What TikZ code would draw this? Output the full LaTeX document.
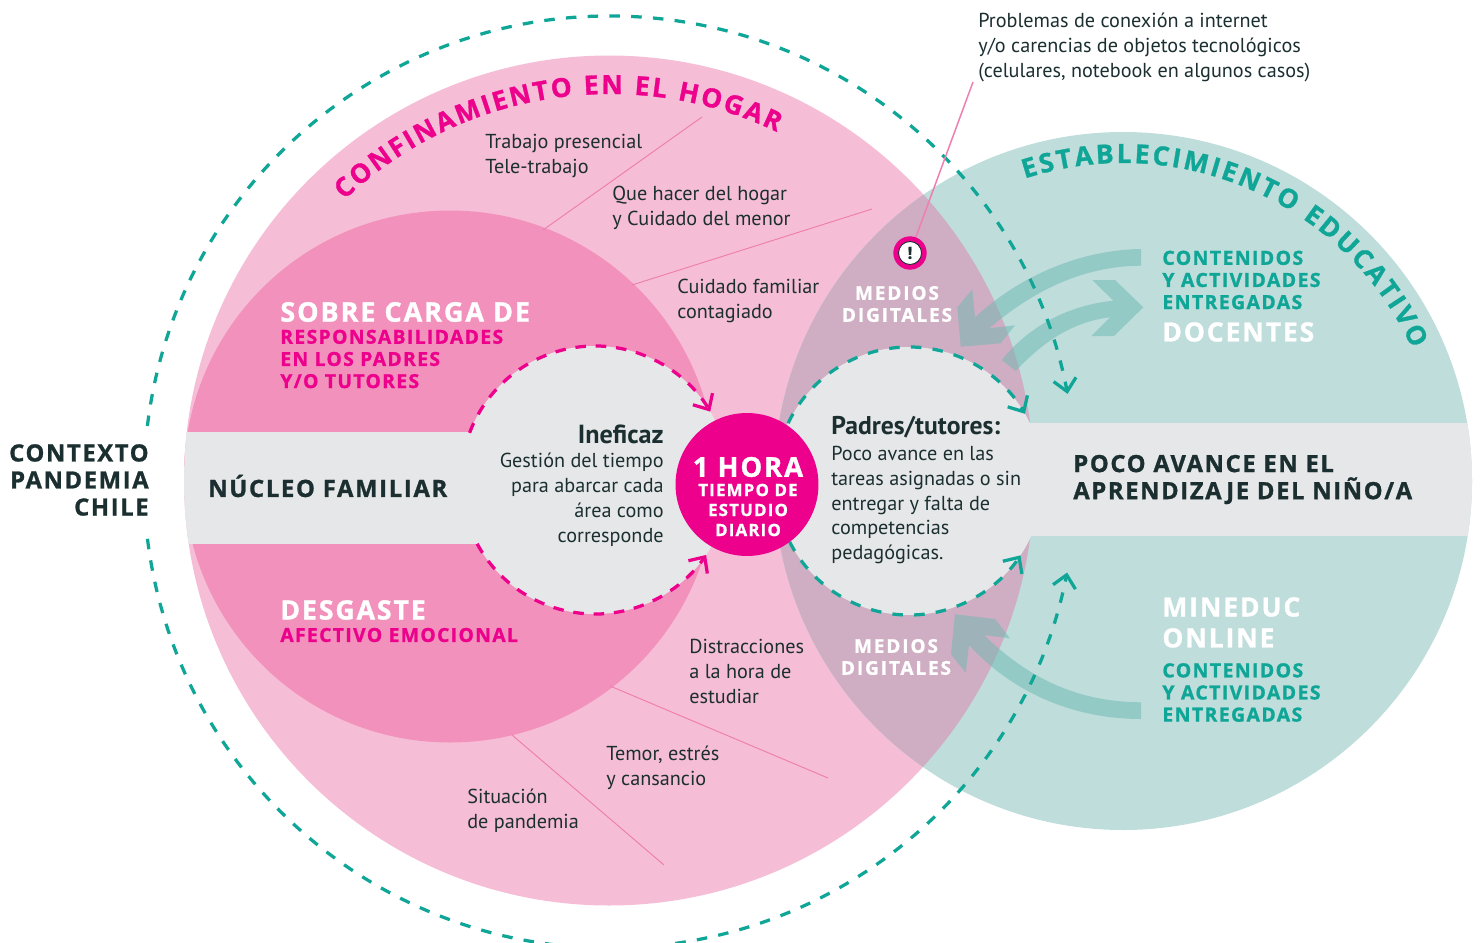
\documentclass[tikz,border=0pt]{standalone}
\usepackage{fontspec}
\usetikzlibrary{arrows.meta,decorations.text}
\setmainfont{PT Sans}
\newfontfamily\bodyf{PT Sans}
\newfontfamily\hdf[LetterSpace=7,BoldFeatures={FakeBold=1.1}]{Open Sans}
\newfontfamily\hdw[LetterSpace=10,BoldFeatures={FakeBold=1.1}]{Open Sans}
\newfontfamily\hdplain[BoldFeatures={FakeBold=1.1}]{Open Sans}
\definecolor{pinkbg}{HTML}{F6BED6}
\definecolor{pinkdk}{HTML}{F292BC}
\definecolor{tealbg}{HTML}{BEDDDB}
\definecolor{overlapc}{HTML}{CFAEC3}
\definecolor{greyc}{HTML}{E6E7E8}
\definecolor{mag}{HTML}{EC008C}
\definecolor{tealdk}{HTML}{10A697}
\definecolor{inkc}{HTML}{1B2E30}
\definecolor{arrowc}{HTML}{6CB8B0}
\definecolor{linec}{HTML}{EE7FB0}
\tikzset{
  body/.style={inner sep=0pt,text=inkc,align=left,font=\bodyf\fontsize{11.5}{14.17}\selectfont},
  bodyr/.style={body,align=right},
  lead/.style={inner sep=0pt,text=inkc,font=\bodyf\bfseries\fontsize{14.6}{17}\selectfont},
  hd/.style={inner sep=0pt,align=left,font=\hdf\bfseries\fontsize{#1}{#1}\selectfont},
  dashteal/.style={draw=tealdk,line width=1.85pt,dash pattern=on 6pt off 6.4pt,-{Straight Barb[length=7pt,width=13pt,line width=1.85pt]}},
  dashmag/.style={draw=mag,line width=1.85pt,dash pattern=on 6pt off 5.6pt,-{Straight Barb[length=7pt,width=13pt,line width=1.85pt]}},
  thin line/.style={draw=linec,line width=0.55pt},
  flow/.style={fill=arrowc,fill opacity=0.5,draw=none}
}
\begin{document}
\begin{tikzpicture}[x=0.02cm,y=0.02cm,yscale=-1]
\useasboundingbox (0,0) rectangle (1481,943);
% big discs
\fill[pinkbg] (609,480.5) circle[radius=425];
\fill[tealbg] (1123,481) circle[radius=349];
\begin{scope}
  \clip (609,480.5) circle[radius=425];
  \fill[overlapc] (1123,481) circle[radius=349];
  \fill[pinkdk] (450,476.5) circle[radius=266];
  \fill[greyc] (150,432) rectangle (500,544);
\end{scope}
\fill[greyc] (595,480) circle[radius=134];
\begin{scope}
  \clip (1123,481) circle[radius=349];
  \fill[greyc] (1000,423) rectangle (1481,536);
\end{scope}
\fill[greyc] (909,481) circle[radius=134];
% flow arrows
\fill[flow] (972.3,289.3) -- (957.3,307.3) -- (960.7,346.7) -- (1000.7,343.3) -- (1015,325.3) -- (989.3,328.3)
  .. controls (1040,285) and (1090,266) .. (1141,265.7) -- (1141,249)
  .. controls (1075,250) and (1015,280) .. (975,317.3) -- cycle;
\fill[flow] (1001.7,360) .. controls (1030,325) and (1070,305) .. (1113.3,300.7) -- (1092.3,280) -- (1115,280) -- (1143.3,307.3)
  -- (1114,336) -- (1091.3,336) -- (1110,317.3) .. controls (1070,322) and (1040,345) .. (1015.7,371) -- cycle;
\fill[flow] (955,614.3) -- (995,619) -- (1010,638.3) -- (984,635)
  .. controls (1030,680) and (1080,702) .. (1141,702.3) -- (1141,719)
  .. controls (1070,719) and (1010,690) .. (969,645) -- (965.7,672.7) -- (951,654.3) -- cycle;
% dashed paths
\draw[dashteal] (610,482) ++(186.9:466) arc[start angle=186.9,end angle=349.1,radius=466];
\draw[dashteal] (610,482) ++(173:466) arc[start angle=173,end angle=11.2,radius=466];
\draw[dashmag] (595,480) ++(200.6:134) arc[start angle=200.6,end angle=329.3,radius=134];
\draw[dashmag] (595,480) ++(151.6:134) arc[start angle=151.6,end angle=34,radius=134];
\draw[dashteal] (909,481) ++(205.6:134) arc[start angle=205.6,end angle=329.9,radius=134];
\draw[dashteal] (909,481) ++(153:134) arc[start angle=153,end angle=33.7,radius=134];
% thin leader lines
\coordinate (l1a) at (702,117); \coordinate (l1b) at (543,230);
\coordinate (l2a) at (872,209); \coordinate (l2b) at (632,285);
\coordinate (l3a) at (828,778); \coordinate (l3b) at (610,686);
\coordinate (l4a) at (664,865); \coordinate (l4b) at (512,735);
\draw[thin line] (l1a) -- (l1b);
\draw[thin line] (l2a) -- (l2b);
\draw[thin line] (l3a) -- (l3b);
\draw[thin line] (l4a) -- (l4b);
% alert icon
\coordinate (alertTop) at (973,82);
\node[circle,fill=mag,minimum size=0.668cm,inner sep=0pt] (alertRing) at (910,253) {};
\draw[linec,line width=0.85pt] (alertTop) -- (alertRing);
\node[circle,fill=white,draw=inkc,line width=0.5pt,minimum size=0.46cm,inner sep=0pt,text=inkc,font=\hdplain\bfseries\fontsize{9.5}{9.5}\selectfont] (alertMark) at (910,253) {!};
% centre disc
\node[circle,fill=mag,minimum size=2.86cm,inner sep=0pt] (hora) at (747,484.5) {};
\node[hd=15.6,text=white,anchor=center] (horaA) at (748,467) {1 HORA};
\node[hd=9.6,text=white,anchor=center] (horaB) at (748,490) {TIEMPO DE};
\node[hd=9.6,text=white,anchor=center] (horaC) at (748,510) {ESTUDIO};
\node[hd=9.6,text=white,anchor=center] (horaD) at (748,530) {DIARIO};
% headings
\node[text=inkc,inner sep=0pt,align=right,anchor=east,font=\hdf\bfseries\fontsize{13.5}{15.4}\selectfont] (ctx) at (149,480) {CONTEXTO\\PANDEMIA\\CHILE};
\node[hd=13.55,text=inkc,anchor=west] (nucleo) at (208,486) {NÚCLEO FAMILIAR};
\node[text=inkc,inner sep=0pt,align=left,anchor=west,font=\hdf\bfseries\fontsize{13.5}{15.4}\selectfont] (poco) at (1073,479.5) {POCO AVANCE EN EL\\APRENDIZAJE DEL NIÑO/A};
\node[hd=15.4,text=white,anchor=west] (sobre) at (280,312) {SOBRE CARGA DE};
\node[text=mag,inner sep=0pt,align=left,anchor=west,font=\hdf\bfseries\fontsize{11}{12.6}\selectfont] (resp) at (280,359) {RESPONSABILIDADES\\EN LOS PADRES\\Y/O TUTORES};
\node[hd=15.2,text=white,anchor=west] (desg) at (280,610) {DESGASTE};
\node[hd=11,text=mag,anchor=west] (afec) at (280,635) {AFECTIVO EMOCIONAL};
\node[text=white,inner sep=0pt,align=center,anchor=center,font=\hdw\bfseries\fontsize{10.8}{12.5}\selectfont] (med1) at (897,304) {MEDIOS\\DIGITALES};
\node[text=white,inner sep=0pt,align=center,anchor=center,font=\hdw\bfseries\fontsize{10.8}{12.5}\selectfont] (med2) at (896,657) {MEDIOS\\DIGITALES};
\node[text=tealdk,inner sep=0pt,align=left,anchor=west,font=\hdf\bfseries\fontsize{11.1}{12.6}\selectfont] (cont1) at (1162,280) {CONTENIDOS\\Y ACTIVIDADES\\ENTREGADAS};
\node[hd=15.1,text=white,anchor=west] (doc) at (1162,332) {DOCENTES};
\node[text=white,inner sep=0pt,align=left,anchor=west,font=\hdf\bfseries\fontsize{15.1}{17.6}\selectfont] (min) at (1162,622.5) {MINEDUC\\ONLINE};
\node[text=tealdk,inner sep=0pt,align=left,anchor=west,font=\hdf\bfseries\fontsize{11.1}{12.6}\selectfont] (cont2) at (1162,692.5) {CONTENIDOS\\Y ACTIVIDADES\\ENTREGADAS};
% body text
\node[body,anchor=west] (prob) at (978,47.5) {Problemas de conexión a internet\\y/o carencias de objetos tecnológicos\\(celulares, notebook en algunos casos)};
\node[body,anchor=west] (trab) at (485,156) {Trabajo presencial\\Tele-trabajo};
\node[body,anchor=west] (hogar) at (612,208) {Que hacer del hogar\\y Cuidado del menor};
\node[body,anchor=west] (cuid) at (677,301) {Cuidado familiar\\contagiado};
\node[lead,anchor=east,font=\bodyf\bfseries\fontsize{14.9}{17}\selectfont] (inef) at (664,434) {Ineficaz};
\node[bodyr,anchor=east] (gest) at (664,499.5) {Gestión del tiempo\\para abarcar cada\\área como\\corresponde};
\node[lead,anchor=west] (padres) at (831,427) {Padres/tutores:};
\node[body,anchor=west] (poco2) at (831,505) {Poco avance en las\\tareas asignadas o sin\\entregar y falta de\\competencias\\pedagógicas.};
\node[body,anchor=west] (dist) at (689,671.5) {Distracciones\\a la hora de\\estudiar};
\node[body,anchor=west] (temor) at (606,768) {Temor, estrés\\y cansancio};
\node[body,anchor=west] (sit) at (467,811) {Situación\\de pandemia};
% curved titles (y axis un-flipped so that the letters read normally)
\begin{scope}[yscale=-1]
\path[decorate,decoration={text along path,text align={fit to path},
  text={|\hdplain\bfseries\fontsize{15}{15}\selectfont\color{mag}|CONFINAMIENTO EN EL HOGAR}}]
  (610,-480) ++(133.5:386) arc[start angle=133.5,end angle=64.4,radius=386];
\path[decorate,decoration={text along path,text align={fit to path},
  text={|\hdplain\bfseries\fontsize{15}{15}\selectfont\color{tealdk}|ESTABLECIMIENTO EDUCATIVO}}]
  (1123,-481) ++(108:318) arc[start angle=108,end angle=24.6,radius=318];
\end{scope}
\end{tikzpicture}
\end{document}
